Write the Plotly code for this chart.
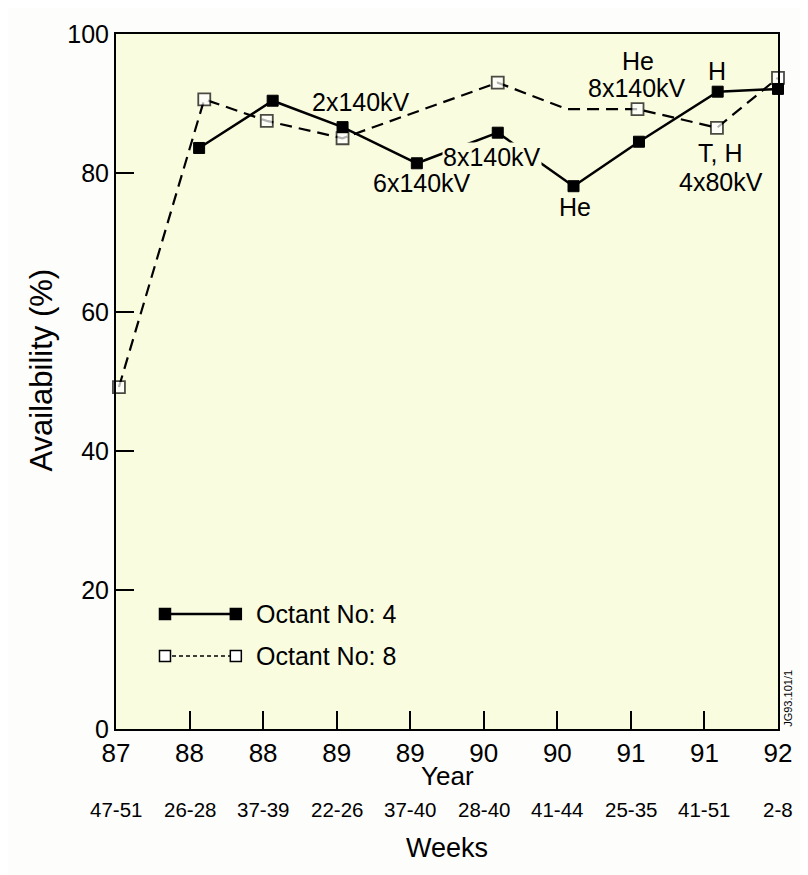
import plotly.graph_objects as go

# ---- data ----
year_ticks = ["87", "88", "88", "89", "89", "90", "90", "91", "91", "92"]
week_ticks = ["47-51", "26-28", "37-39", "22-26", "37-40", "28-40", "41-44", "25-35", "41-51", "2-8"]

oct4_x = [1.13, 2.13, 3.08, 4.09, 5.19, 6.22, 7.11, 8.18, 9.0]
oct4_y = [83.6, 90.4, 86.6, 81.4, 85.8, 78.1, 84.5, 91.7, 92.1]

oct8_x = [0.04, 1.20, 2.05, 3.08, 5.19, 6.13, 7.09, 8.17, 9.0]
oct8_y = [49.2, 90.6, 87.5, 85.0, 93.0, 89.2, 89.2, 86.5, 93.7]
oct8_marker = [True, True, True, True, True, False, True, True, True]

series_names = ["Octant No: 4", "Octant No: 8"]

notes_text = ["2x140kV", "6x140kV", "8x140kV", "He", "He", "8x140kV", "H", "T, H", "4x80kV"]
notes_x = [3.33, 4.16, 5.11, 6.24, 7.09, 7.08, 8.17, 8.21, 8.23]
notes_y = [90.2, 78.6, 82.3, 75.1, 96.1, 92.2, 94.7, 82.9, 78.7]

PLOT_BG = "#FAFCE0"
FONT = "Liberation Sans, Arial, Helvetica, sans-serif"

fig = go.Figure()

fig.add_trace(go.Scatter(
    x=oct4_x, y=oct4_y, mode="lines+markers", name=series_names[0],
    line=dict(color="black", width=2.5),
    marker=dict(symbol="square", size=11, color="black", line=dict(color="black", width=1)),
    cliponaxis=False, showlegend=False,
))

fig.add_trace(go.Scatter(
    x=oct8_x, y=oct8_y, mode="lines+markers", name=series_names[1],
    line=dict(color="black", width=2.2, dash="12px,7px"),
    marker=dict(symbol="square", size=[12 if m else 0 for m in oct8_marker],
                color="white", line=dict(color="black", width=[1.8 if m else 0 for m in oct8_marker])),
    cliponaxis=False, showlegend=False,
))

annotations = []
for t, x, y in zip(notes_text, notes_x, notes_y):
    annotations.append(dict(
        x=x, y=y, xref="x", yref="y", text=t, showarrow=False,
        font=dict(size=25, color="black", family=FONT),
        bgcolor=PLOT_BG if t == "8x140kV" and x < 6 else None,
        borderpad=0,
    ))

for i, w in enumerate(week_ticks):
    annotations.append(dict(
        x=i, y=-0.1165, xref="x", yref="paper", text=w, showarrow=False,
        font=dict(size=20.5, color="black", family=FONT), yanchor="middle",
    ))

annotations.append(dict(x=0.5, y=-0.0676, xref="paper", yref="paper", text="Year",
                        showarrow=False, yanchor="middle",
                        font=dict(size=26, color="black", family=FONT)))
annotations.append(dict(x=0.5, y=-0.171, xref="paper", yref="paper", text="Weeks",
                        showarrow=False, yanchor="middle",
                        font=dict(size=27, color="black", family=FONT)))
annotations.append(dict(x=-0.112, y=0.517, xref="paper", yref="paper", text="Availability (%)",
                        showarrow=False, textangle=-90, xanchor="center", yanchor="middle",
                        font=dict(size=31, color="black", family=FONT)))
annotations.append(dict(x=1.002, y=0.0, xref="paper", yref="paper", text="JG93.101/1",
                        showarrow=False, textangle=-90, xanchor="left", yanchor="bottom",
                        font=dict(size=11, color="black", family=FONT)))

# ---- custom legend (line sample with a marker at each end, like the original) ----
LEG_X0, LEG_X1, LEG_TX = 0.074, 0.181, 0.208
LEG_ROWS = [0.1655, 0.105]
shapes = []
leg_styles = [
    dict(dash="solid", width=2.5, fill="black"),
    dict(dash="4px,3px", width=1.6, fill="white"),
]
for name, yrow, st in zip(series_names, LEG_ROWS, leg_styles):
    shapes.append(dict(type="line", xref="paper", yref="paper", x0=LEG_X0, x1=LEG_X1, y0=yrow, y1=yrow,
                       line=dict(color="black", width=st["width"], dash=st["dash"])))
    for xm in (LEG_X0, LEG_X1):
        shapes.append(dict(type="rect", xref="paper", yref="paper",
                           xsizemode="pixel", ysizemode="pixel", xanchor=xm, yanchor=yrow,
                           x0=-5.5, x1=5.5, y0=-5.5, y1=5.5,
                           fillcolor=st["fill"], line=dict(color="black", width=1.5)))
    annotations.append(dict(x=LEG_TX, y=yrow, xref="paper", yref="paper", text=name,
                            showarrow=False, xanchor="left", yanchor="middle",
                            font=dict(size=25, color="black", family=FONT)))

# the page body has an 8px margin, so the figure is 8px smaller each way
fig.update_layout(
    width=800, height=867,
    margin=dict(l=108, r=30, t=26, b=146),
    paper_bgcolor="#FDFDFB",
    plot_bgcolor=PLOT_BG,
    font=dict(family=FONT, color="black"),
    showlegend=False,
    annotations=annotations,
    shapes=shapes,
)

fig.update_xaxes(
    range=[0, 9], tickmode="array", tickvals=list(range(len(year_ticks))), ticktext=year_ticks,
    showgrid=False, zeroline=False, showline=True, linecolor="black", linewidth=2, mirror=True,
    ticks="inside", ticklen=18, tickwidth=1.5, tickcolor="black",
    tickfont=dict(size=26, family=FONT, color="black"),
)
fig.update_yaxes(
    range=[0, 100], tickmode="array", tickvals=[0, 20, 40, 60, 80, 100],
    showgrid=False, zeroline=False, showline=True, linecolor="black", linewidth=2, mirror=True,
    ticks="inside", ticklen=18, tickwidth=1.5, tickcolor="black",
    tickfont=dict(size=25, family=FONT, color="black"),
)

fig.write_html("out.html")
